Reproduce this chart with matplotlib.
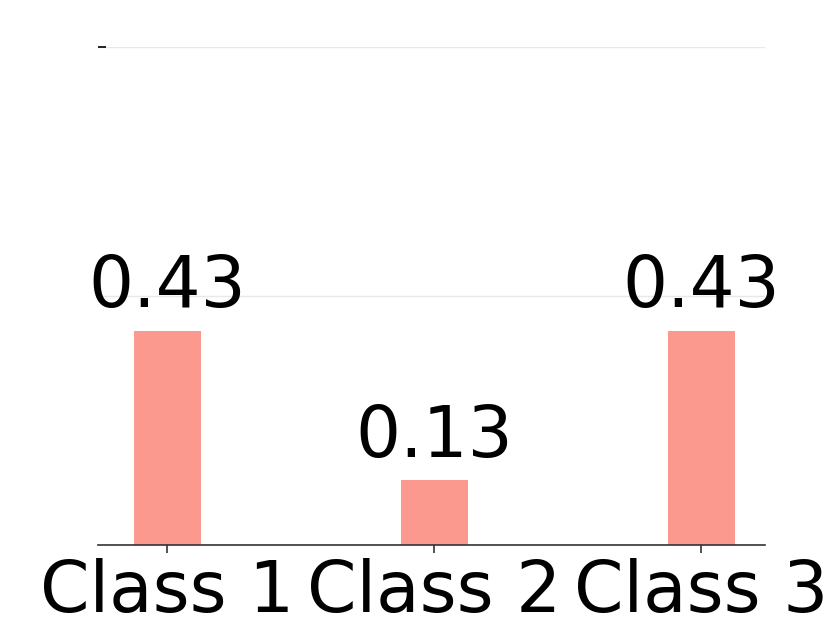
import matplotlib.pyplot as plt
import numpy as np

classes = ["Class 1", "Class 2", "Class 3"]
values = [0.43, 0.13, 0.43]
labels = ["0.43", "0.13", "0.43"]

fig, ax = plt.subplots(figsize=(8.3, 6.23), dpi=100)
fig.subplots_adjust(left=0.118, right=0.922, top=0.925, bottom=0.125)

x = np.arange(len(classes))
bars = ax.bar(x, values, width=0.25, color="salmon", alpha=0.8, zorder=2)

for xi, v, lab in zip(x, values, labels):
    ax.annotate(lab, (xi, v), xytext=(0, 6), textcoords="offset points",
                ha="center", va="bottom", fontsize=51)

ax.set_xlim(-0.26, 2.24)
ax.set_ylim(0, 1.0)
ax.set_xticks(x)
ax.set_xticklabels(classes, fontsize=51)
ax.set_yticks([0, 0.5, 1.0])
ax.set_yticklabels([])
ax.tick_params(axis="y", length=0)
ax.yaxis.remove_overlapping_locs = False
ax.set_yticks([1.0], minor=True)
ax.tick_params(axis="y", which="minor", length=6, width=1.2, direction="in")
ax.tick_params(axis="x", length=6, width=1.2, color="#333333", pad=3)
ax.yaxis.grid(True, color="#e8e8e8", linewidth=1, zorder=0)
ax.set_axisbelow(True)

for s in ["top", "right", "left"]:
    ax.spines[s].set_visible(False)
ax.spines["bottom"].set_color("#333333")
ax.spines["bottom"].set_linewidth(1.2)

fig.savefig("out.png", dpi=100)
